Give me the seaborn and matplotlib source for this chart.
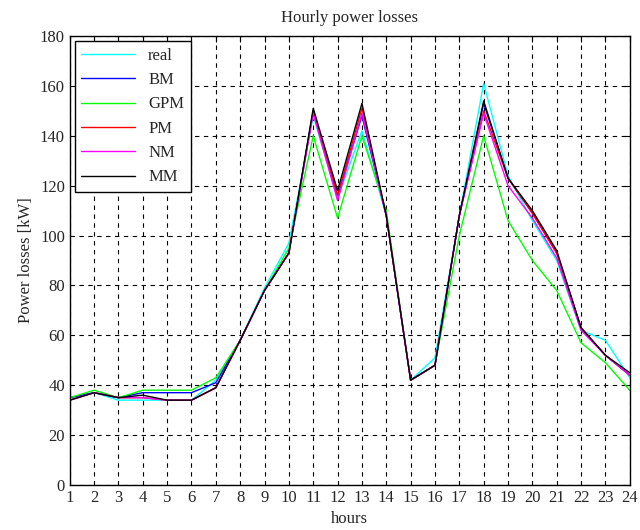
import pandas as pd
import matplotlib
matplotlib.use("Agg")
import matplotlib.pyplot as plt
import seaborn as sns

hours = list(range(1, 25))
real = [35, 37, 34, 34, 34, 34, 42, 58, 79, 97, 148, 115, 142, 108, 42, 51, 108, 161, 124, 106, 90, 62, 58, 43]
bm = [35, 37, 35, 37, 37, 37, 41, 58, 78, 93, 150, 116, 148, 108, 42, 48, 108, 153, 123, 109, 93, 63, 52, 44]
gpm = [35, 38, 35, 38, 38, 38, 43, 58, 78, 95, 140, 107, 140, 110, 42, 48, 100, 140, 106, 90, 78, 57, 49, 38]
pm = [34, 37, 35, 35, 34, 34, 39, 58, 78, 93, 150, 116, 151, 108, 42, 48, 108, 150, 123, 109, 93, 63, 52, 44]
nm = [34, 37, 35, 35, 34, 34, 39, 58, 78, 93, 149, 114, 149, 108, 42, 48, 108, 149, 120, 107, 91, 62, 52, 44]
mm = [34, 37, 35, 36, 34, 34, 39, 58, 78, 93, 151, 118, 153, 108, 42, 48, 108, 154, 123, 110, 94, 63, 52, 45]

series = {"real": real, "BM": bm, "GPM": gpm, "PM": pm, "NM": nm, "MM": mm}
colors = {"real": "#00ffff", "BM": "#0000ff", "GPM": "#00ff00",
          "PM": "#ff0000", "NM": "#ff00ff", "MM": "#000000"}

df = pd.concat(
    [pd.DataFrame({"hour": hours, "loss": v, "method": k}) for k, v in series.items()],
    ignore_index=True,
)

sns.set_style("white")
plt.rcParams["font.family"] = ["Liberation Serif", "DejaVu Serif"]

fig = plt.figure(figsize=(6.4, 5.3), dpi=100)
ax = fig.add_axes([0.109, 0.085, 0.875, 0.847])

sns.lineplot(data=df, x="hour", y="loss", hue="method", palette=colors,
             hue_order=list(series.keys()), linewidth=1.0, ax=ax)

ax.set_xlim(1, 24)
ax.set_ylim(0, 180)
ax.set_xticks(hours)
ax.set_yticks(range(0, 181, 20))
ax.tick_params(direction="in", top=True, right=True, labelsize=12, length=4, color="black")
ax.grid(True, color="black", linestyle=(0, (4, 4)), linewidth=0.8)
for s in ax.spines.values():
    s.set_color("black")
    s.set_linewidth(1.0)

ax.set_title("Hourly power losses", fontsize=12, pad=10)
ax.set_xlabel("hours", fontsize=12)
ax.set_ylabel("Power losses [kW]", fontsize=12)

leg = ax.legend(loc="upper left", fontsize=12, frameon=True, fancybox=False,
                edgecolor="black", framealpha=1, borderaxespad=0.3, handlelength=3.2,
                labelspacing=0.5)
leg.get_frame().set_linewidth(1.0)

fig.savefig("out.png", dpi=100)
